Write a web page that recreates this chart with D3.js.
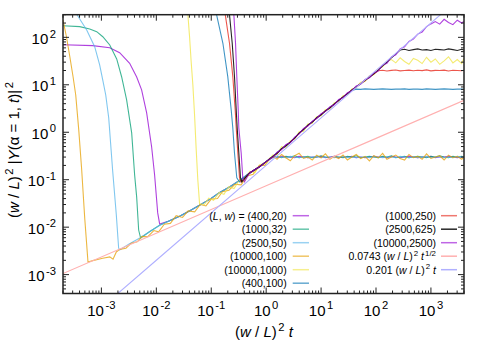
<!DOCTYPE html>
<html>
<head>
<meta charset="utf-8">
<script src="https://cdn.jsdelivr.net/npm/d3@7"></script>
<style>
  body { margin: 0; background: #fff; }
  svg { display: block; }
  text { font-family: "Liberation Sans", Arial, Helvetica, sans-serif; fill: #000; }
</style>
</head>
<body>
<svg id="chart" width="498" height="356"></svg>
<script>
// ---- data: [ (w/L)^2 t , (w/L)^2 |Y|^2 ] ----
const seriesNames = ["(400,20)", "(1000,32)", "(2500,50)", "(10000,100)", "(10000,1000)",
                     "(400,100)", "(1000,250)", "(2500,625)", "(10000,2500)"];
const seriesColors = ["#9400d3", "#009e73", "#56b4e9", "#e69f00", "#f0e442",
                      "#0072b2", "#e51e10", "#000000", "#9400d3"];

// initial plateau + fast decay of each run
const drop400x20 = [[2e-4, 70], [6.95e-4, 67], [1.42e-3, 60.6], [2.15e-3, 47.5], [3.27e-3, 28.4],
  [4.39e-3, 14.6], [5.4e-3, 7.8], [6.67e-3, 2.55], [8.22e-3, 0.49], [9.31e-3, 0.126],
  [1.06e-2, 0.02], [1.15e-2, 0.0117]];
const drop1000x32 = [[2e-4, 176], [4.03e-4, 168], [6.13e-4, 150], [8.22e-4, 132], [1.06e-3, 103],
  [1.42e-3, 69], [1.9e-3, 35], [2.34e-3, 14.6], [2.88e-3, 4.8], [3.56e-3, 0.97],
  [4.03e-3, 0.126], [4.39e-3, 0.043], [4.77e-3, 0.0087], [5.18e-3, 0.0059]];
const drop2500x50 = [[2e-4, 700], [3.6e-4, 300], [5.4e-4, 143], [7.55e-4, 63.6], [9.3e-4, 26.2],
  [1.06e-3, 12.6], [1.2e-3, 6.1], [1.36e-3, 2.0], [1.6e-3, 0.16], [1.87e-3, 0.018],
  [2.06e-3, 0.00365]];
const drop10000x100 = [[2e-4, 232], [2.31e-4, 103], [2.65e-4, 40.5], [3.05e-4, 14.8],
  [3.41e-4, 6.1], [3.87e-4, 1.12], [4.38e-4, 0.16], [4.97e-4, 0.0156], [5.7e-4, 0.00185]];
const drop10000x1000 = [[0.034, 800], [0.0376, 300], [0.0403, 103], [0.0433, 28.4], [0.0463, 9.9],
  [0.0497, 2.3], [0.0533, 0.42], [0.057, 0.099], [0.0613, 0.031]];
const drop400x100 = [[0.105, 700], [0.125, 300], [0.163, 75], [0.2, 14.9], [0.231, 2.95],
  [0.247, 1.23], [0.265, 0.366], [0.292, 0.109], [0.327, 0.0897]];
const drop1000x250 = [[0.15, 700], [0.18, 300], [0.215, 75], [0.247, 14.9], [0.273, 2.95],
  [0.285, 1.23], [0.305, 0.366], [0.327, 0.11], [0.348, 0.0897]];
const drop2500x625 = [[0.18, 700], [0.215, 300], [0.241, 75], [0.265, 14.9], [0.285, 2.95],
  [0.297, 1.23], [0.318, 0.366], [0.341, 0.11], [0.36, 0.09]];
const drop10000x2500 = [[0.22, 700], [0.258, 300], [0.277, 75], [0.292, 14.9], [0.31, 2.95],
  [0.318, 1.23], [0.351, 0.366], [0.375, 0.11], [0.403, 0.09]];

// shared early-time band (t^1/2 regime) and the start of the linear rise
const lowBand = [[2.15e-3, 3.3e-3], [3.2e-3, 4.4e-3], [5.0e-3, 5.9e-3], [7.5e-3, 8.0e-3],
  [1.15e-2, 1.1e-2], [1.7e-2, 1.35e-2], [2.65e-2, 1.7e-2], [4e-2, 2.2e-2], [6.1e-2, 2.9e-2],
  [0.095, 3.9e-2], [0.14, 5.3e-2], [0.215, 7.0e-2], [0.327, 9.6e-2]];
const riseBand = [[0.5, 0.139], [0.756, 0.188], [1.0, 0.24]];

// noisier runs in the low band
const orangeLow = [[6.95e-4, 1.97e-3], [1.06e-3, 2.21e-3], [1.42e-3, 2.36e-3], [1.63e-3, 2.11e-3],
  [1.87e-3, 3.0e-3], [2.15e-3, 3.4e-3], [2.8e-3, 3.6e-3], [3.5e-3, 4.6e-3], [4.5e-3, 4.9e-3],
  [5.5e-3, 6.4e-3], [7e-3, 6.3e-3], [9e-3, 8.5e-3], [1.1e-2, 8.0e-3], [1.4e-2, 1.15e-2],
  [1.8e-2, 1.2e-2], [2.3e-2, 1.75e-2], [3e-2, 1.6e-2], [3.8e-2, 2.2e-2], [5e-2, 2.1e-2],
  [6.3e-2, 3.0e-2], [8e-2, 2.8e-2], [0.1, 3.9e-2], [0.13, 4.0e-2], [0.16, 5.6e-2],
  [0.21, 6.0e-2], [0.27, 8.0e-2], [0.35, 7.8e-2], [0.45, 0.12], [0.58, 0.13], [0.75, 0.2],
  [0.95, 0.2], [1.15, 0.28]];
const yellowLow = [[0.075, 0.030], [0.09, 0.041], [0.11, 0.037], [0.14, 0.054], [0.17, 0.049],
  [0.21, 0.071], [0.26, 0.065], [0.33, 0.10], [0.4, 0.092], [0.5, 0.15], [0.62, 0.14],
  [0.78, 0.21], [1.0, 0.22]];

// late times: shared x positions, one y list per run
const xGrid = [1.32, 1.58, 1.91, 2.29, 2.75, 3.31, 3.98, 4.79, 5.75, 6.92, 8.32, 10, 12.0, 14.5,
  17.4, 20.9, 25.1, 30.2, 36.3, 43.7, 52.5, 63.1, 75.9, 91.2, 110, 132, 158, 191, 229, 275, 331,
  398, 479, 575, 692, 832, 1000, 1202, 1445, 1738, 2089, 2512, 3020, 3631, 3981];
const late400x20 = [0.30, 0.29, 0.31, 0.30, 0.30, 0.29, 0.31, 0.30, 0.29, 0.30, 0.30, 0.31, 0.29,
  0.30, 0.31, 0.29, 0.30, 0.30, 0.31, 0.29, 0.30, 0.29, 0.30, 0.31, 0.30, 0.30, 0.29, 0.31, 0.30,
  0.29, 0.30, 0.31, 0.30, 0.29, 0.30, 0.30, 0.31, 0.29, 0.30, 0.30, 0.31, 0.30, 0.29, 0.30, 0.30];
const late1000x32 = [0.30, 0.31, 0.29, 0.31, 0.30, 0.32, 0.29, 0.30, 0.31, 0.29, 0.30, 0.32, 0.30,
  0.29, 0.31, 0.30, 0.29, 0.31, 0.30, 0.32, 0.29, 0.30, 0.31, 0.30, 0.29, 0.31, 0.30, 0.32, 0.29,
  0.30, 0.31, 0.29, 0.30, 0.31, 0.30, 0.29, 0.31, 0.30, 0.32, 0.30, 0.29, 0.31, 0.30, 0.31, 0.30];
const late2500x50 = [0.29, 0.30, 0.30, 0.29, 0.31, 0.30, 0.29, 0.30, 0.29, 0.30, 0.31, 0.29, 0.30,
  0.30, 0.29, 0.30, 0.31, 0.29, 0.30, 0.29, 0.30, 0.30, 0.29, 0.31, 0.30, 0.29, 0.30, 0.30, 0.29,
  0.31, 0.30, 0.29, 0.30, 0.29, 0.30, 0.31, 0.29, 0.30, 0.30, 0.29, 0.30, 0.29, 0.31, 0.30, 0.29];
const late10000x100 = [0.31, 0.27, 0.34, 0.29, 0.25, 0.32, 0.36, 0.28, 0.30, 0.26, 0.33, 0.29,
  0.35, 0.27, 0.31, 0.28, 0.33, 0.26, 0.30, 0.34, 0.28, 0.31, 0.25, 0.32, 0.29, 0.36, 0.27, 0.30,
  0.33, 0.28, 0.26, 0.34, 0.29, 0.31, 0.27, 0.35, 0.28, 0.30, 0.32, 0.26, 0.33, 0.29, 0.31, 0.27,
  0.30];
const late10000x1000 = [0.33, 0.34, 0.50, 0.47, 0.66, 0.72, 1.02, 1.05, 1.5, 1.55, 2.15, 2.2, 3.0,
  3.1, 4.2, 4.5, 5.9, 6.2, 8.2, 8.7, 11.3, 11.8, 15.6, 16.2, 21.5, 24, 31,
  34, 29, 37, 31, 27, 36, 33, 28, 38, 30, 35, 27, 32, 39, 29, 34, 28, 36];
const late400x100 = [0.31, 0.37, 0.45, 0.52, 0.62, 0.77, 0.95, 1.15, 1.4, 1.65, 2.0, 2.35, 2.8,
  3.3, 3.95, 4.7, 5.5, 6.5, 7.6,
  8.1, 8.0, 8.2, 8.1, 8.0, 8.1, 8.2, 8.1, 8.0, 8.1, 8.1, 8.2, 8.0, 8.1, 8.1, 8.0, 8.2, 8.1, 8.0,
  8.1, 8.2, 8.1, 8.0, 8.1, 8.1, 8.0];
const late1000x250 = [0.30, 0.36, 0.44, 0.53, 0.61, 0.76, 0.94, 1.16, 1.38, 1.66, 1.98, 2.37, 2.8,
  3.3, 3.9, 4.7, 5.5, 6.6, 7.7, 9.1, 10.6, 12.3, 14.6, 17.1,
  19.8, 20.3, 19.6, 20.1, 20.5, 19.7, 20.0, 20.4, 19.8, 20.2, 19.9, 20.6, 19.7, 20.1, 20.0, 20.4,
  19.6, 20.2, 20.0, 19.8, 20.3];
const late2500x625 = [0.31, 0.36, 0.45, 0.52, 0.62, 0.75, 0.96, 1.14, 1.41, 1.64, 2.02, 2.33,
  2.82, 3.28, 3.93, 4.68, 5.56, 6.45, 7.75, 9.0, 10.5, 12.4, 14.4, 17.1, 20.3, 25.2, 29.8, 37.2, 45,
  54, 56, 53, 55, 57, 54, 55, 53, 56, 55, 54, 57, 55, 53, 56, 54];
const late10000x2500 = [0.30, 0.38, 0.43, 0.55, 0.60, 0.79, 0.92, 1.2, 1.35, 1.72, 1.95, 2.45,
  2.75, 3.45, 3.8, 4.9, 5.35, 6.8, 7.5, 9.5, 10.2, 12.9, 14.1, 17.8, 19.6, 26, 28.5, 38.5, 43, 57,
  63, 82, 92, 117, 130, 168, 192,
  215, 190, 240, 205, 185, 230, 200, 215];

// fitted power laws
const fitSqrtCoef = 0.0743;
const fitLinCoef = 0.201;

// ---- layout ----
const plot = { left: 63, right: 464, top: 14.7, bottom: 293.5 };
const FONT = 15, LEGEND_FONT = 10.5;

const svg = d3.select("#chart");
const x = d3.scaleLog().domain([2e-4, 4000]).range([plot.left, plot.right]);
const y = d3.scaleLog().domain([4e-4, 300]).range([plot.bottom, plot.top]);

function withBand(drop, band) {
  const xEnd = drop[drop.length - 1][0];
  return drop.concat(band.filter(d => d[0] > xEnd));
}
function onGrid(vals) {
  return vals.map((v, i) => [xGrid[i], v]);
}

const seriesData = [
  withBand(drop400x20, lowBand).concat(riseBand, onGrid(late400x20)),
  withBand(drop1000x32, lowBand).concat(riseBand, onGrid(late1000x32)),
  withBand(drop2500x50, lowBand).concat(riseBand, onGrid(late2500x50)),
  drop10000x100.concat(orangeLow, onGrid(late10000x100)),
  drop10000x1000.concat(yellowLow, onGrid(late10000x1000)),
  drop400x100.concat(riseBand, onGrid(late400x100)),
  drop1000x250.concat(riseBand, onGrid(late1000x250)),
  drop2500x625.concat(riseBand, onGrid(late2500x625)),
  drop10000x2500.concat(riseBand, onGrid(late10000x2500))
];
const fitX = [2e-4, 1e-2, 1, 100, 4000];
const fitSqrt = fitX.map(v => [v, fitSqrtCoef * Math.sqrt(v)]);
const fitLin = fitX.map(v => [v, fitLinCoef * v]);

// rich text: parts = [text, flags] where flags may contain "i" (italic) or "s" (superscript)
function richText(sel, parts, size) {
  let raised = false;
  parts.forEach(([txt, flags = ""]) => {
    const sup = flags.includes("s");
    const ts = sel.append("tspan").text(txt);
    if (flags.includes("i")) ts.attr("font-style", "italic");
    if (sup) {
      ts.attr("font-size", size * 0.75).attr("dy", raised ? 0 : -size * 0.42).attr("dx", size * 0.1);
      raised = true;
    } else if (raised) {
      ts.attr("dy", size * 0.42);
      raised = false;
    }
  });
  return sel;
}

// ---- axes, ticks ----
function drawFrame() {
  const g = svg.append("g").attr("class", "frame");
  const isMajor = v => Math.abs(Math.log10(v) - Math.round(Math.log10(v))) < 1e-9;

  x.ticks().forEach(v => {
    const px = x(v), len = isMajor(v) ? 6 : 3;
    g.append("line").attr("x1", px).attr("x2", px).attr("y1", plot.bottom).attr("y2", plot.bottom - len);
    g.append("line").attr("x1", px).attr("x2", px).attr("y1", plot.top).attr("y2", plot.top + len);
  });
  y.ticks().forEach(v => {
    const py = y(v), len = isMajor(v) ? 6 : 3;
    g.append("line").attr("x1", plot.left).attr("x2", plot.left + len).attr("y1", py).attr("y2", py);
    g.append("line").attr("x1", plot.right).attr("x2", plot.right - len).attr("y1", py).attr("y2", py);
  });
  g.selectAll("line").attr("stroke", "#222").attr("stroke-width", 1);

  g.append("rect")
    .attr("x", plot.left).attr("y", plot.top)
    .attr("width", plot.right - plot.left).attr("height", plot.bottom - plot.top)
    .attr("fill", "none").attr("stroke", "#222").attr("stroke-width", 1.5);

  // tick labels 10^n
  [-3, -2, -1, 0, 1, 2, 3].forEach(e => {
    const t = svg.append("text").attr("x", x(Math.pow(10, e))).attr("y", plot.bottom + 22)
      .attr("text-anchor", "middle").attr("font-size", FONT);
    richText(t, [["10"], [String(e), "s"]], FONT);
  });
  [-3, -2, -1, 0, 1, 2].forEach(e => {
    const t = svg.append("text").attr("x", plot.left - 7).attr("y", y(Math.pow(10, e)) + 6.5)
      .attr("text-anchor", "end").attr("font-size", FONT);
    richText(t, [["10"], [String(e), "s"]], FONT);
  });

  // axis titles
  const xt = svg.append("text").attr("x", 264).attr("y", 337)
    .attr("text-anchor", "middle").attr("font-size", FONT);
  richText(xt, [["("], ["w", "i"], [" / "], ["L", "i"], [")"], ["2", "s"], [" "], ["t", "i"]], FONT);

  const yt = svg.append("text").attr("transform", "translate(19,150) rotate(-90)")
    .attr("text-anchor", "middle").attr("font-size", FONT);
  richText(yt, [["("], ["w", "i"], [" / "], ["L", "i"], [")"], ["2", "s"], [" |"], ["Y", "i"],
    ["(α = 1, "], ["t", "i"], [")|"], ["2", "s"]], FONT);
}

// ---- curves ----
function drawCurves() {
  svg.append("clipPath").attr("id", "clip").append("rect")
    .attr("x", plot.left).attr("y", plot.top)
    .attr("width", plot.right - plot.left).attr("height", plot.bottom - plot.top);
  const line = d3.line().x(d => x(d[0])).y(d => y(d[1]));
  const g = svg.append("g").attr("clip-path", "url(#clip)");

  seriesData.forEach((data, i) => {
    g.append("path").datum(data).attr("d", line)
      .attr("fill", "none").attr("stroke", seriesColors[i])
      .attr("stroke-opacity", i === 7 ? 0.85 : 0.75).attr("stroke-width", 1.1);
  });
  g.append("path").datum(fitSqrt).attr("d", line)
    .attr("fill", "none").attr("stroke", "#ffb0b0").attr("stroke-width", 1.1);
  g.append("path").datum(fitLin).attr("d", line)
    .attr("fill", "none").attr("stroke", "#b0b0ff").attr("stroke-width", 1.1);
}

// ---- legend ----
function drawLegend() {
  const rowY = i => 215.7 + i * 13.5;
  const cols = [{ textX: 286.7, x1: 292.7, x2: 309 }, { textX: 436, x1: 441, x2: 457 }];
  const entries = seriesNames.map((n, i) => ({
    parts: i === 0 ? [["("], ["L", "i"], [", "], ["w", "i"], [") = " + n]] : [[n]],
    color: seriesColors[i], opacity: i === 7 ? 0.85 : 0.6
  }));
  entries.push({ parts: [[fitSqrtCoef + " ("], ["w", "i"], [" / "], ["L", "i"], [")"], ["2", "s"], [" "],
    ["t", "i"], ["1/2", "s"]], color: "#ffb0b0", opacity: 1 });
  entries.push({ parts: [[fitLinCoef + " ("], ["w", "i"], [" / "], ["L", "i"], [")"], ["2", "s"], [" "],
    ["t", "i"]], color: "#b0b0ff", opacity: 1 });

  entries.forEach((e, k) => {
    const c = cols[k < 6 ? 0 : 1], row = k < 6 ? k : k - 6;
    const t = svg.append("text").attr("x", c.textX).attr("y", rowY(row) + 3.8)
      .attr("text-anchor", "end").attr("font-size", LEGEND_FONT);
    richText(t, e.parts, LEGEND_FONT);
    svg.append("line").attr("x1", c.x1).attr("x2", c.x2)
      .attr("y1", rowY(row)).attr("y2", rowY(row))
      .attr("stroke", e.color).attr("stroke-opacity", e.opacity).attr("stroke-width", 1.5);
  });
}

drawCurves();
drawLegend();
drawFrame();
</script>
</body>
</html>
